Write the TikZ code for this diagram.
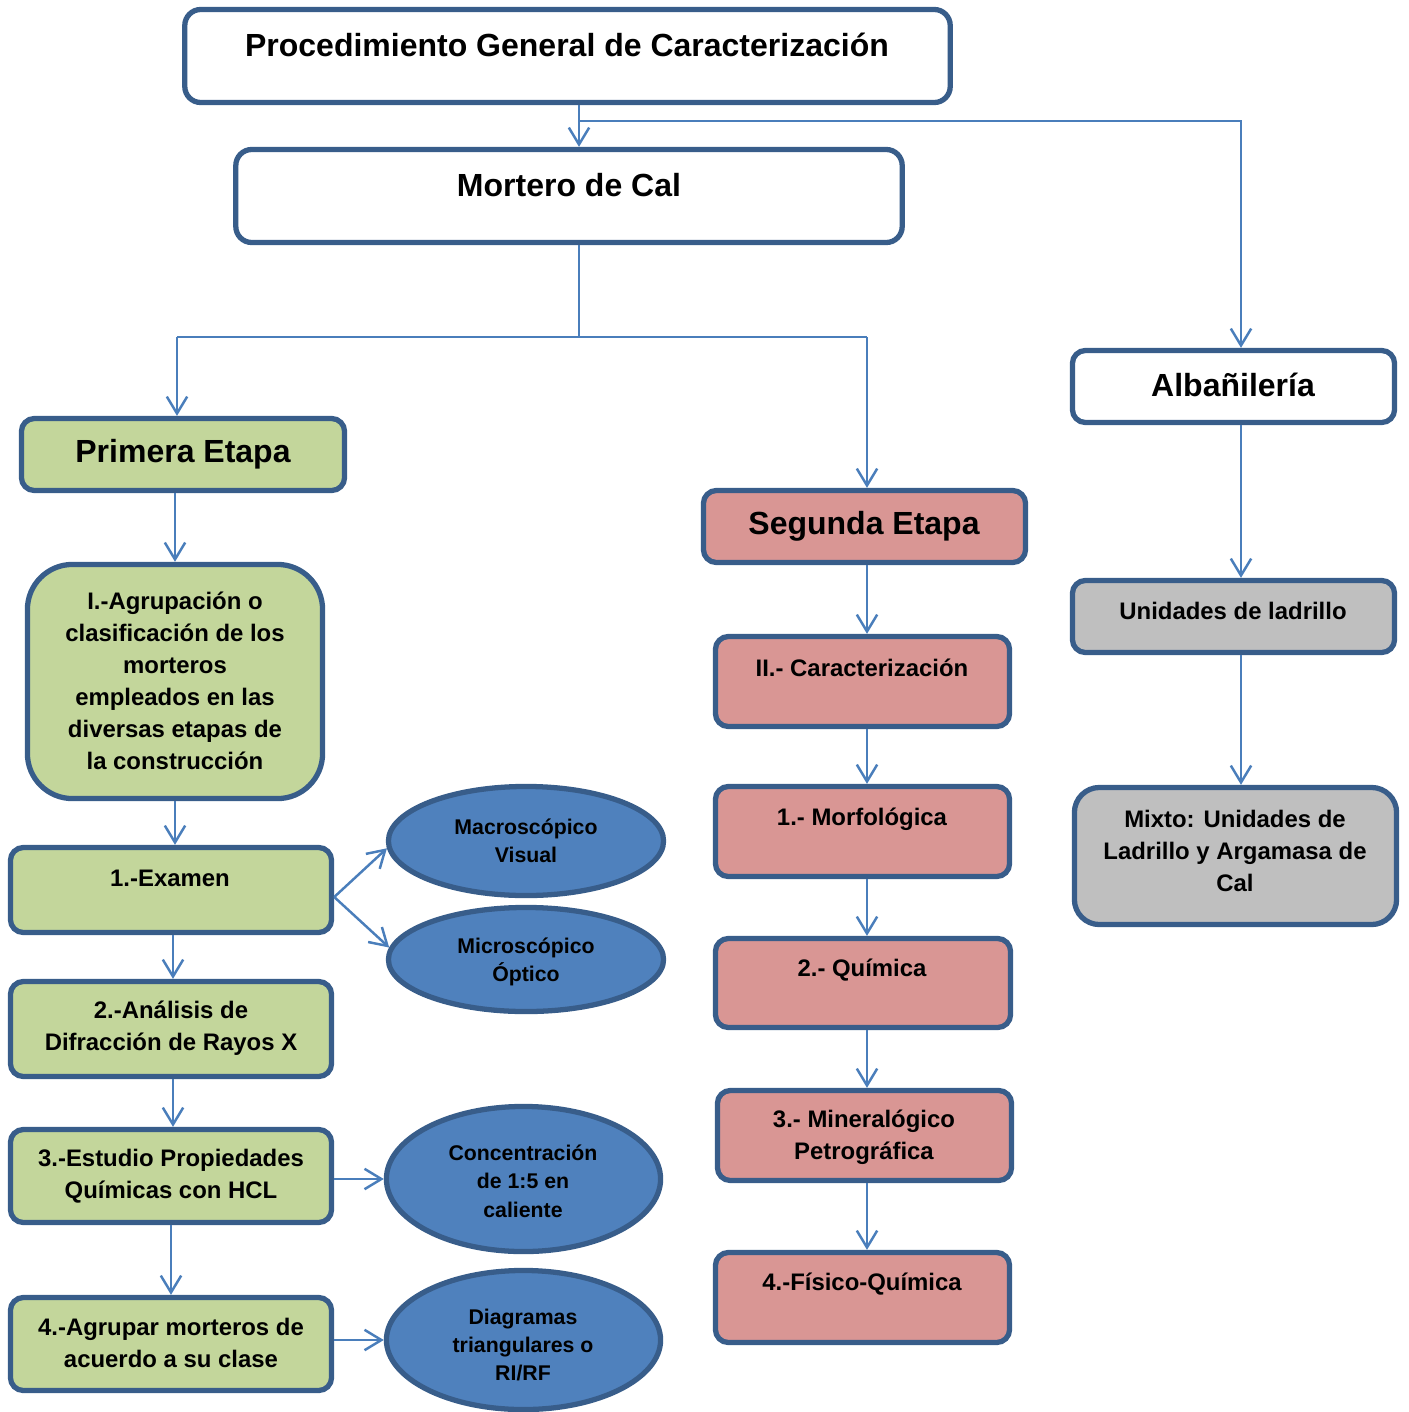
\documentclass[tikz,border=0pt]{standalone}
\usepackage{fontspec}
\setmainfont{Liberation Sans}
\usetikzlibrary{arrows.meta,shapes.geometric}
\definecolor{bd}{RGB}{56,93,138}
\definecolor{ar}{RGB}{74,126,187}
\definecolor{gr}{RGB}{195,214,155}
\definecolor{pk}{RGB}{217,150,148}
\definecolor{gy}{RGB}{191,191,191}
\definecolor{el}{RGB}{79,129,189}
\newcommand{\ftitle}{\fontsize{9.1}{11}\selectfont\bfseries}
\newcommand{\fbody}{\fontsize{6.8}{9.1}\selectfont\bfseries}
\newcommand{\fell}{\fontsize{6.05}{8.1}\selectfont\bfseries}
\tikzset{
  boxst/.style={draw=bd, line width=1.5pt, rounded corners=0.13cm, rectangle, inner sep=0pt},
  ellst/.style={draw=bd, line width=1.5pt, ellipse, fill=el, inner sep=0pt},
  big/.style={font=\ftitle, align=center, inner sep=0pt},
  txt/.style={font=\fbody, align=center, inner sep=0pt},
  etxt/.style={font=\fell, align=center, inner sep=0pt},
  ln/.style={draw=ar, line width=0.7pt},
  arr/.style={draw=ar, line width=0.7pt, -{Straight Barb[length=4.8pt,width=5.8pt,line width=0.7pt]}}
}
\begin{document}
\begin{tikzpicture}[x=0.01cm,y=-0.01cm]
\useasboundingbox (0,0) rectangle (1408,1412);
% boxes
\node[boxst, fill=white, minimum width=7.65cm, minimum height=0.93cm, rounded corners=0.16cm] (title) at (567.5,56) {};
\node[boxst, fill=white, minimum width=6.66cm, minimum height=0.93cm, rounded corners=0.16cm] (mort) at (569,196) {};
\node[boxst, fill=white, minimum width=3.22cm, minimum height=0.72cm] (alba) at (1233.5,386.5) {};
\node[boxst, fill=gr, minimum width=3.23cm, minimum height=0.72cm] (prim) at (183,454.5) {};
\node[boxst, fill=pk, minimum width=3.22cm, minimum height=0.72cm] (seg) at (864.5,526.5) {};
\node[boxst, fill=gr, minimum width=2.95cm, minimum height=2.34cm, rounded corners=0.45cm] (agr) at (175,681.5) {};
\node[boxst, fill=gr, minimum width=3.21cm, minimum height=0.85cm] (ex) at (171,890) {};
\node[boxst, fill=gr, minimum width=3.21cm, minimum height=0.95cm] (ana) at (171,1029) {};
\node[boxst, fill=gr, minimum width=3.21cm, minimum height=0.93cm] (est) at (171,1176) {};
\node[boxst, fill=gr, minimum width=3.21cm, minimum height=0.93cm] (agp) at (171,1344) {};
\node[boxst, fill=pk, minimum width=2.94cm, minimum height=0.90cm] (car) at (862.5,681.5) {};
\node[boxst, fill=pk, minimum width=2.94cm, minimum height=0.90cm] (mor) at (862.5,831.5) {};
\node[boxst, fill=pk, minimum width=2.95cm, minimum height=0.89cm] (qui) at (863,983) {};
\node[boxst, fill=pk, minimum width=2.94cm, minimum height=0.90cm] (min) at (864.5,1135.5) {};
\node[boxst, fill=pk, minimum width=2.94cm, minimum height=0.90cm] (fis) at (862.5,1297.5) {};
\node[boxst, fill=gy, minimum width=3.22cm, minimum height=0.72cm] (uni) at (1233.5,616.5) {};
\node[boxst, fill=gy, minimum width=3.22cm, minimum height=1.37cm, rounded corners=0.25cm] (mix) at (1235.5,856) {};
% ellipses
\node[ellst, minimum width=2.75cm, minimum height=1.09cm] (mac) at (526,841) {};
\node[ellst, minimum width=2.75cm, minimum height=1.04cm] (mic) at (526,959.5) {};
\node[ellst, minimum width=2.74cm, minimum height=1.45cm] (con) at (523.5,1179) {};
\node[ellst, minimum width=2.74cm, minimum height=1.39cm] (dia) at (523.5,1340) {};
% texts
\node[big] (t-title) at (567,45) {Procedimiento General de Caracterización};
\node[big] (t-mort) at (569,185) {Mortero de Cal};
\node[big] (t-alba) at (1233,385) {Albañilería};
\node[big] (t-prim) at (183,454) {Primera Etapa};
\node[big] (t-seg) at (864,526) {Segunda Etapa};
\node[txt] (t-agr) at (175,680.5) {I.-Agrupación o\\clasificación de los\\morteros\\empleados en las\\diversas etapas de\\la construcción};
\node[txt] (t-ex) at (170,878) {1.-Examen};
\node[txt] (t-ana) at (171,1028) {2.-Análisis de\\Difracción de Rayos X};
\node[txt] (t-est) at (171,1176) {3.-Estudio Propiedades\\Químicas con HCL};
\node[txt] (t-agp) at (171,1343) {4.-Agrupar morteros de\\acuerdo a su clase};
\node[txt] (t-car) at (862,668) {II.- Caracterización};
\node[txt] (t-mor) at (862,819) {1.- Morfológica};
\node[txt] (t-qui) at (862,970) {2.- Química};
\node[txt] (t-min) at (864,1137) {3.- Mineralógico\\Petrográfica};
\node[txt] (t-fis) at (862,1284) {4.-Físico-Química};
\node[txt] (t-uni) at (1233,611) {Unidades de ladrillo};
\node[txt] (t-mix) at (1235,851) {Mixto: Unidades de\\Ladrillo y Argamasa de\\Cal};
\node[etxt] (t-mac) at (526,841) {Macroscópico\\Visual};
\node[etxt] (t-mic) at (526,962) {Microscópico\\Óptico};
\node[etxt] (t-con) at (523,1181) {Concentración\\de 1:5 en\\caliente};
\node[etxt] (t-dia) at (523,1345) {Diagramas\\triangulares o\\RI/RF};
% connectors
\coordinate (j1) at (579,121);
\coordinate (j2) at (579,337);
\draw[arr] (579,0 |- title.south) -- (579,0 |- mort.north);
\draw[arr] (j1) -| (1241,0 |- alba.north);
\draw[ln] (579,0 |- mort.south) -- (j2);
\draw[ln] (177,0 |- j2) -- (867,0 |- j2);
\draw[arr] (177,0 |- j2) -- (177,0 |- prim.north);
\draw[arr] (867,0 |- j2) -- (867,0 |- seg.north);
\draw[arr] (175,0 |- prim.south) -- (175,0 |- agr.north);
\draw[arr] (175,0 |- agr.south) -- (175,0 |- ex.north);
\draw[arr] (173,0 |- ex.south) -- (173,0 |- ana.north);
\draw[arr] (173,0 |- ana.south) -- (173,0 |- est.north);
\draw[arr] (171,0 |- est.south) -- (171,0 |- agp.north);
\draw[arr] ([yshift=-0.07cm]ex.east) -- (mac.183);
\draw[arr] ([yshift=-0.07cm]ex.east) -- (mic.175);
\draw[arr] (est.east |- con.west) -- (con.west);
\draw[arr] (agp.east |- dia.west) -- (dia.west);
\draw[arr] (867,0 |- seg.south) -- (867,0 |- car.north);
\draw[arr] (867,0 |- car.south) -- (867,0 |- mor.north);
\draw[arr] (867,0 |- mor.south) -- (867,0 |- qui.north);
\draw[arr] (867,0 |- qui.south) -- (867,0 |- min.north);
\draw[arr] (867,0 |- min.south) -- (867,0 |- fis.north);
\draw[arr] (1241,0 |- alba.south) -- (1241,0 |- uni.north);
\draw[arr] (1241,0 |- uni.south) -- (1241,0 |- mix.north);
\end{tikzpicture}
\end{document}
